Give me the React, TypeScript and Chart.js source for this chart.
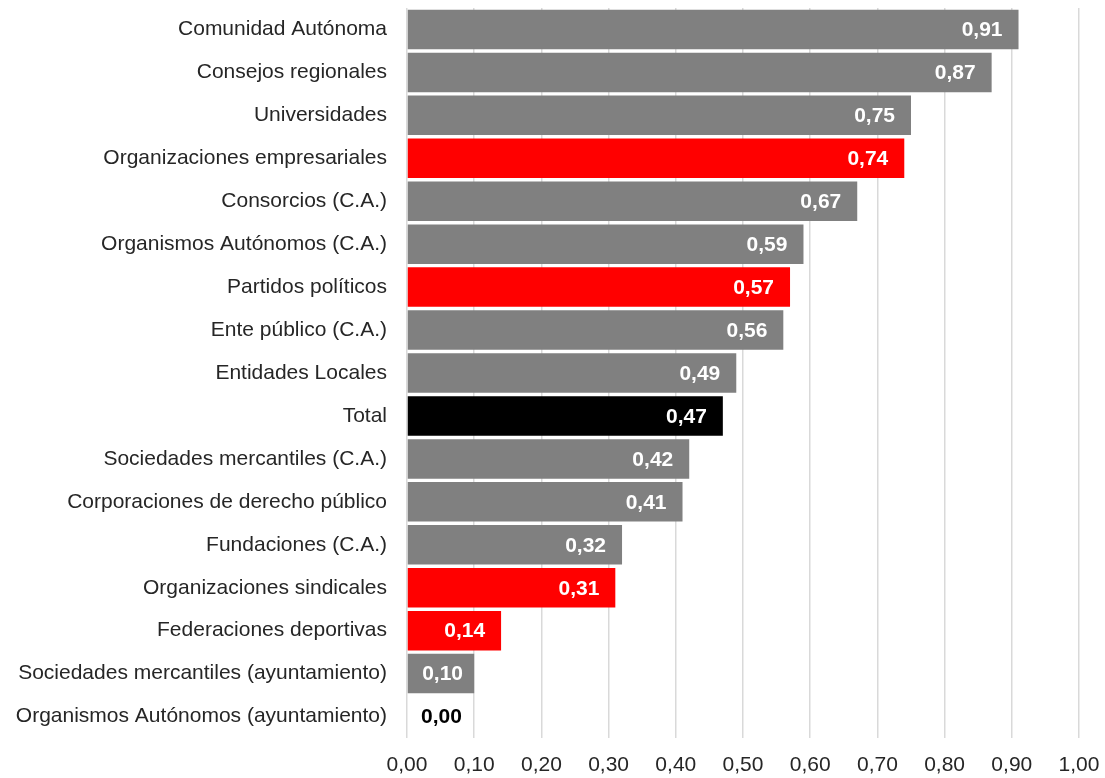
import React, { useEffect, useRef } from "react";
import { Chart, registerables } from "chart.js";

Chart.register(...registerables);

const categories = [
  "Comunidad Autónoma",
  "Consejos regionales",
  "Universidades",
  "Organizaciones empresariales",
  "Consorcios (C.A.)",
  "Organismos Autónomos (C.A.)",
  "Partidos políticos",
  "Ente público (C.A.)",
  "Entidades Locales",
  "Total",
  "Sociedades mercantiles (C.A.)",
  "Corporaciones de derecho público",
  "Fundaciones (C.A.)",
  "Organizaciones sindicales",
  "Federaciones deportivas",
  "Sociedades mercantiles (ayuntamiento)",
  "Organismos Autónomos (ayuntamiento)",
];

const values = [0.91, 0.87, 0.75, 0.74, 0.67, 0.59, 0.57, 0.56, 0.49, 0.47, 0.42, 0.41, 0.32, 0.31, 0.14, 0.1, 0.0];

const barColors = [
  "#808080", "#808080", "#808080", "#FF0000", "#808080", "#808080", "#FF0000", "#808080",
  "#808080", "#000000", "#808080", "#808080", "#808080", "#FF0000", "#FF0000", "#808080", "#808080",
];

const fmt = (v: number) => v.toFixed(2).replace(".", ",");

const FONT = "'Liberation Sans', Arial, sans-serif";

const valueLabels = {
  id: "valueLabels",
  afterDatasetsDraw(chart: any) {
    const ctx = chart.ctx;
    const meta = chart.getDatasetMeta(0);
    const left = chart.chartArea.left;
    ctx.save();
    ctx.font = `bold 21px ${FONT}`;
    ctx.textBaseline = "middle";
    meta.data.forEach((el: any, i: number) => {
      const v = values[i];
      const text = fmt(v);
      const w = ctx.measureText(text).width;
      if (v === 0) {
        ctx.fillStyle = "#000000";
        ctx.textAlign = "left";
        ctx.fillText(text, left + 14, el.y + 1);
        return;
      }
      ctx.fillStyle = "#FFFFFF";
      ctx.textAlign = "left";
      let x = el.x - 16 - w;
      if (x < left + 12) x = (left + el.x) / 2 - w / 2 + 2;
      ctx.fillText(text, x, el.y + 1);
    });
    ctx.restore();
  },
};

export default function App() {
  const ref = useRef<HTMLCanvasElement>(null);
  useEffect(() => {
    if (!ref.current) return;
    const chart = new Chart(ref.current, {
      type: "bar",
      data: {
        labels: categories,
        datasets: [
          {
            data: values,
            backgroundColor: barColors,
            borderWidth: 0,
            categoryPercentage: 1,
            barPercentage: 0.92,
          },
        ],
      },
      options: {
        indexAxis: "y",
        responsive: false,
        animation: false,
        layout: { padding: { top: 8, right: 26, left: 0, bottom: 0 } },
        plugins: { legend: { display: false }, tooltip: { enabled: false } },
        scales: {
          x: {
            min: 0,
            max: 1,
            ticks: {
              stepSize: 0.1,
              callback: (v: any) => fmt(Number(v)),
              font: { family: FONT, size: 21 },
              color: "#262626",
              padding: 15,
              maxRotation: 0,
            },
            grid: { color: "#d9d9d9", lineWidth: 1.5, drawTicks: false },
            border: { display: false },
            afterFit: (s: any) => {
              s.height = 40;
              s.paddingLeft = 0;
              s.paddingRight = 0;
            },
          },
          y: {
            ticks: {
              font: { family: FONT, size: 21 },
              color: "#262626",
              padding: 20,
              autoSkip: false,
            },
            grid: { display: false, drawTicks: false },
            border: { display: false },
            afterFit: (s: any) => {
              s.width = 407;
              s.paddingTop = 0;
              s.paddingBottom = 0;
            },
          },
        },
      },
      plugins: [valueLabels],
    } as any);
    return () => chart.destroy();
  }, []);
  return (
    <div style={{ position: "absolute", left: 0, top: 0, width: 1105, height: 778, background: "#fff" }}>
      <canvas ref={ref} width={1105} height={778} />
    </div>
  );
}
